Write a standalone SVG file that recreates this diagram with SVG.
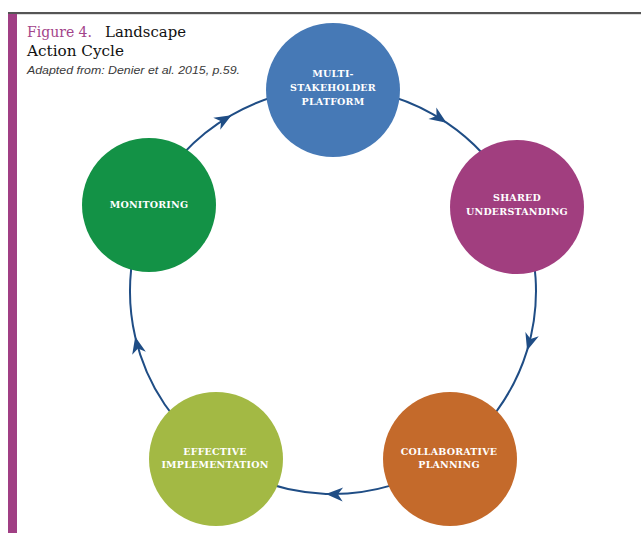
<svg xmlns="http://www.w3.org/2000/svg" width="641" height="533" viewBox="0 0 641 533">
  <style>
    .ring { fill: none; stroke: #1f4d85; stroke-width: 2; marker-mid: url(#arrow); }
    .node-label { font-family: "DejaVu Serif", "Liberation Serif", serif; font-weight: bold; font-size: 9.5px; fill: #ffffff; text-anchor: middle; letter-spacing: 0.2px; }
    .title { font-family: "DejaVu Serif", "Liberation Serif", serif; font-size: 14px; }
    .source { font-family: "Liberation Sans", Arial, sans-serif; font-style: italic; font-size: 11px; fill: #3a3a3a; }
  </style>
  <defs>
    <marker id="arrow" markerUnits="userSpaceOnUse" markerWidth="22" markerHeight="18" viewBox="-19 -9 22 18" refX="0" refY="0" orient="auto">
      <path d="M0,0 L-17,-7 L-12,0 L-17,7 Z" fill="#1f4d85"/>
    </marker>
  </defs>

  <rect width="641" height="533" fill="#ffffff"/>

  <!-- frame: top rule and left accent bar -->
  <rect x="8" y="12" width="633" height="2.2" fill="#555555"/>
  <rect x="8" y="14" width="9" height="519" fill="#a03f84"/>

  <!-- heading -->
  <g id="heading">
    <text class="title" x="27" y="37" fill="#a3448a" textLength="65" lengthAdjust="spacingAndGlyphs">Figure 4.</text>
    <text class="title" x="105" y="37" fill="#111111" textLength="81" lengthAdjust="spacingAndGlyphs">Landscape</text>
    <text class="title" x="27" y="56" fill="#111111" textLength="97" lengthAdjust="spacingAndGlyphs">Action Cycle</text>
    <text class="source" x="27" y="74" textLength="213" lengthAdjust="spacingAndGlyphs">Adapted from: Denier et al. 2015, p.59.</text>
  </g>

  <!-- cycle connectors: arcs on a ring centred (333,291), r=203, arrowhead at the middle vertex -->
  <g id="connectors">
    <path class="ring" d="M333,88 A203,203 0 0 1 446.5,122.7 A203,203 0 0 1 517.7,206.8"/>
    <path class="ring" d="M517.7,206.8 A203,203 0 0 1 527.1,350.4 A203,203 0 0 1 449.4,457.3"/>
    <path class="ring" d="M449.4,457.3 A203,203 0 0 1 325.9,493.9 A203,203 0 0 1 216.6,457.3"/>
    <path class="ring" d="M216.6,457.3 A203,203 0 0 1 135.2,336.7 A203,203 0 0 1 149.0,205.2"/>
    <path class="ring" d="M149.0,205.2 A203,203 0 0 1 231.5,115.2 A203,203 0 0 1 333,88"/>
  </g>

  <g id="multi-stakeholder-platform">
    <circle cx="333" cy="90" r="67" fill="#4679b6"/>
    <text class="node-label" x="333" y="77">MULTI-</text>
    <text class="node-label" x="333" y="91">STAKEHOLDER</text>
    <text class="node-label" x="333" y="105">PLATFORM</text>
  </g>

  <g id="shared-understanding">
    <circle cx="517" cy="207" r="67" fill="#a13e7f"/>
    <text class="node-label" x="517" y="200.5">SHARED</text>
    <text class="node-label" x="517" y="214.5">UNDERSTANDING</text>
  </g>

  <g id="collaborative-planning">
    <circle cx="450" cy="459" r="67" fill="#c46a2b"/>
    <text class="node-label" x="449" y="454.5">COLLABORATIVE</text>
    <text class="node-label" x="449" y="468">PLANNING</text>
  </g>

  <g id="effective-implementation">
    <circle cx="216" cy="459" r="67" fill="#a3b944"/>
    <text class="node-label" x="215" y="454.5">EFFECTIVE</text>
    <text class="node-label" x="215" y="468">IMPLEMENTATION</text>
  </g>

  <g id="monitoring">
    <circle cx="149" cy="205" r="67" fill="#139246"/>
    <text class="node-label" x="149" y="207.5">MONITORING</text>
  </g>
</svg>
